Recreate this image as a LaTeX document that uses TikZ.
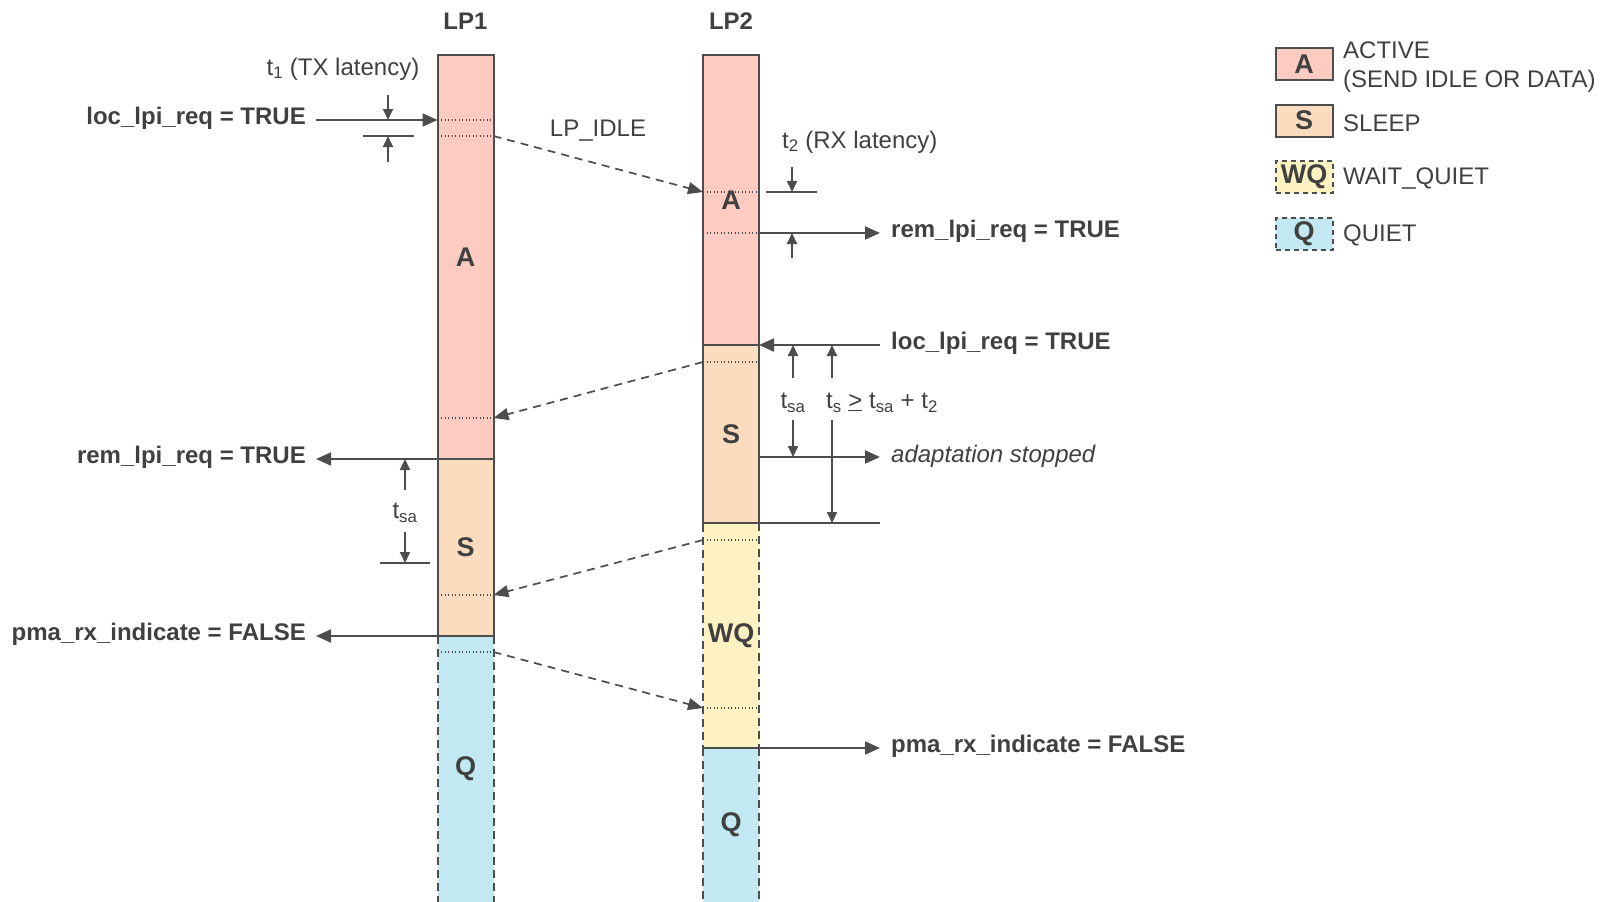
\documentclass[tikz,border=0pt]{standalone}
\usepackage{fontspec}
\setmainfont{Liberation Sans}
\usetikzlibrary{arrows.meta}
\definecolor{ink}{HTML}{4D4D4D}
\definecolor{txt}{HTML}{404040}
\definecolor{actfill}{HTML}{FDCBC0}
\definecolor{slpfill}{HTML}{FCDCBE}
\definecolor{wqfill}{HTML}{FFF2C2}
\definecolor{qfill}{HTML}{C2E8F2}
\begin{document}
\begin{tikzpicture}[x=1pt,y=-1pt,
  font=\fontsize{24}{28.5}\selectfont, text=txt,
  seg/.style={line width=2pt, minimum width=56pt, inner sep=0pt, outer sep=0pt,
    anchor=north west, font=\fontsize{27}{30}\selectfont\bfseries},
  solidseg/.style={seg, draw=ink},
  dashseg/.style={seg, draw=ink, dash pattern=on 8pt off 5pt},
  edge/.style={draw=ink, line width=2pt},
  dashedge/.style={draw=ink, line width=2pt, dash pattern=on 8pt off 5pt},
  dotline/.style={draw=ink, line width=1.3pt, dash pattern=on 1.3pt off 2.2pt},
  arr/.style={draw=ink, line width=2pt, -{Triangle[length=15pt,width=13pt]}},
  sarr/.style={draw=ink, line width=2pt, -{Triangle[length=11pt,width=10pt]}},
  darr/.style={draw=ink, line width=1.7pt, dash pattern=on 8pt off 6pt,
    -{Triangle[length=15pt,width=12pt]}},
  blbl/.style={inner sep=0pt, font=\fontsize{24}{28.5}\selectfont\bfseries},
  lbl/.style={inner sep=0pt},
  legbox/.style={minimum width=57pt, minimum height=32pt, inner sep=0pt,
    line width=2pt, draw=ink, font=\fontsize{27}{30}\selectfont\bfseries},
]
\useasboundingbox (0,0) rectangle (1606,902);

% ---- LP1 bar ----
\node[solidseg, fill=actfill, minimum height=404pt] (lp1a) at (437.5,55) {A};
\node[solidseg, fill=slpfill, minimum height=177pt] (lp1s) at (437.5,459) {S};
\node[seg, fill=qfill, minimum height=266pt] (lp1q) at (437.5,636) {Q};
\draw[dashedge] (lp1q.north west) -- (lp1q.south west);
\draw[dashedge] (lp1q.north east) -- (lp1q.south east);
\draw[edge] (lp1q.north west) -- (lp1q.north east);

% ---- LP2 bar ----
\node[solidseg, fill=actfill, minimum height=290pt] (lp2a) at (703,55) {A};
\node[solidseg, fill=slpfill, minimum height=178pt] (lp2s) at (703,345) {S};
\node[dashseg, fill=wqfill, minimum height=225pt] (lp2w) at (703,523) {WQ};
\node[seg, fill=qfill, minimum height=154pt] (lp2q) at (703,748) {Q};
\draw[dashedge] (lp2q.north west) -- (lp2q.south west);
\draw[dashedge] (lp2q.north east) -- (lp2q.south east);
\draw[edge] (lp2s.south west) -- (lp2s.south east);
\draw[edge] (lp2q.north west) -- (lp2q.north east);

% titles
\node[blbl] (t1) at (465.5,21) {LP1};
\node[blbl] (t2) at (731,21) {LP2};

% ---- dotted marks inside the bars ----
\foreach \y in {120,136,418} \draw[dotline] (lp1a.west |- 0,\y) -- (lp1a.east |- 0,\y);
\draw[dotline] (lp1s.west |- 0,595) -- (lp1s.east |- 0,595);
\draw[dotline] (lp1q.west |- 0,652) -- (lp1q.east |- 0,652);
\foreach \y in {192,233} \draw[dotline] (lp2a.west |- 0,\y) -- (lp2a.east |- 0,\y);
\draw[dotline] (lp2s.west |- 0,362) -- (lp2s.east |- 0,362);
\draw[dotline] (lp2w.west |- 0,540) -- (lp2w.east |- 0,540);
\draw[dotline] (lp2w.west |- 0,708) -- (lp2w.east |- 0,708);

% ---- dashed messages between the bars ----
\draw[darr] (lp1a.east |- 0,136) -- (lp2a.west |- 0,192);
\node[lbl] (idle) at (598,131) {LP\_IDLE};
\draw[darr] (lp2s.west |- 0,362) -- (lp1a.east |- 0,418);
\draw[darr] (lp2w.west |- 0,540) -- (lp1s.east |- 0,595);
\draw[darr] (lp1q.east |- 0,652) -- (lp2w.west |- 0,708);

% ---- LP1 side events ----
\node[blbl, anchor=east] (loc1) at (306,118) {loc\_lpi\_req = TRUE};
\coordinate (loc1s) at (316,120);
\draw[arr] (loc1s) -- (loc1s -| lp1a.west);

\node[blbl, anchor=east] (rem1) at (306,457) {rem\_lpi\_req = TRUE};
\coordinate (rem1e) at (316,459);
\draw[arr] (rem1e -| lp1a.west) -- (rem1e);

\node[blbl, anchor=east] (pma1) at (306,634) {pma\_rx\_indicate = FALSE};
\coordinate (pma1e) at (316,636);
\draw[arr] (pma1e -| lp1s.west) -- (pma1e);

% t1 (TX latency)
\node[lbl] (tx) at (343,69) {t\textsubscript{1} (TX latency)};
\coordinate (tx1) at (388,95);
\coordinate (tx2) at (388,120);
\coordinate (tx3) at (388,162);
\coordinate (tx4) at (388,136);
\coordinate (txl) at (363,136);
\coordinate (txr) at (414,136);
\draw[sarr] (tx1) -- (tx2);
\draw[sarr] (tx3) -- (tx4);
\draw[edge] (txl) -- (txr);

% tsa on LP1
\node[lbl] (tsa1) at (405,513) {t\textsubscript{sa}};
\coordinate (sa1a) at (405,490);
\coordinate (sa1b) at (405,459);
\coordinate (sa1c) at (405,532);
\coordinate (sa1d) at (405,563);
\coordinate (sa1l) at (380,563);
\coordinate (sa1r) at (430,563);
\draw[sarr] (sa1a) -- (sa1b);
\draw[sarr] (sa1c) -- (sa1d);
\draw[edge] (sa1l) -- (sa1r);

% ---- LP2 side events ----
\node[lbl, anchor=west] (rx) at (782,142) {t\textsubscript{2} (RX latency)};
\coordinate (rx1) at (792,167);
\coordinate (rx2) at (792,192);
\coordinate (rx3) at (792,258);
\coordinate (rx4) at (792,233);
\coordinate (rxl) at (766,192);
\coordinate (rxr) at (817,192);
\draw[sarr] (rx1) -- (rx2);
\draw[sarr] (rx3) -- (rx4);
\draw[edge] (rxl) -- (rxr);

\node[blbl, anchor=west] (rem2) at (891,231) {rem\_lpi\_req = TRUE};
\coordinate (rem2e) at (880,233);
\draw[arr] (rem2e -| lp2a.east) -- (rem2e);

\node[blbl, anchor=west] (loc2) at (891,343) {loc\_lpi\_req = TRUE};
\coordinate (loc2s) at (880,345);
\draw[arr] (loc2s) -- (loc2s -| lp2a.east);

\node[lbl, anchor=west, font=\fontsize{24}{28.5}\selectfont\itshape] (adapt) at (891,456) {adaptation stopped};
\coordinate (adapte) at (880,457);
\draw[arr] (adapte -| lp2s.east) -- (adapte);

\coordinate (wqend) at (880,523);
\draw[edge] (wqend -| lp2s.east) -- (wqend);

\node[blbl, anchor=west] (pma2) at (891,746) {pma\_rx\_indicate = FALSE};
\coordinate (pma2e) at (880,748);
\draw[arr] (pma2e -| lp2w.east) -- (pma2e);

% tsa and ts on LP2
\node[lbl] (tsa2) at (793,403) {t\textsubscript{sa}};
\coordinate (sa2a) at (793,378);
\coordinate (sa2b) at (793,345);
\coordinate (sa2c) at (793,420);
\coordinate (sa2d) at (793,457);
\draw[sarr] (sa2a) -- (sa2b);
\draw[sarr] (sa2c) -- (sa2d);

\node[lbl, anchor=west] (ts) at (826,403) {t\textsubscript{s} \underline{>} t\textsubscript{sa} + t\textsubscript{2}};
\coordinate (ts1) at (832,378);
\coordinate (ts2) at (832,345);
\coordinate (ts3) at (832,420);
\coordinate (ts4) at (832,523);
\draw[sarr] (ts1) -- (ts2);
\draw[sarr] (ts3) -- (ts4);

% ---- legend ----
\node[legbox, fill=actfill] (ka) at (1304,64) {A};
\node[legbox, fill=slpfill] (ks) at (1304,120.5) {S};
\node[legbox, fill=wqfill, dash pattern=on 5pt off 4pt] (kw) at (1304,177) {WQ};
\node[legbox, fill=qfill, dash pattern=on 5pt off 4pt] (kq) at (1304,233.5) {Q};
\node[lbl, anchor=west, align=left] (la) at (1343,67) {ACTIVE\\(SEND IDLE OR DATA)};
\node[lbl, anchor=west] (ls) at (1343,123) {SLEEP};
\node[lbl, anchor=west] (lw) at (1343,179) {WAIT\_QUIET};
\node[lbl, anchor=west] (lq) at (1343,235) {QUIET};
\end{tikzpicture}
\end{document}
